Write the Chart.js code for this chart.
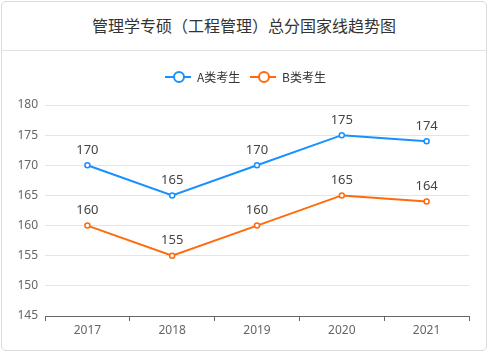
<!DOCTYPE html>
<html><head><meta charset="utf-8">
<script src="https://cdn.jsdelivr.net/npm/chart.js@4/dist/chart.umd.min.js"></script>
<style>
html,body{margin:0;padding:0;background:#fff;width:490px;height:355px;overflow:hidden;font-family:"Noto Sans CJK SC","Noto Sans",sans-serif;}
#card{position:absolute;left:1px;top:1px;width:486px;height:350px;border:1px solid #dcdcdc;border-radius:5px;box-sizing:border-box;}
#head{position:absolute;left:1px;top:1px;width:486px;height:50px;border-bottom:1px solid #e2e2e2;box-sizing:border-box;text-align:center;line-height:48px;font-size:16px;color:#333;}
#legend{position:absolute;top:67px;left:0;width:490px;height:20px;font-size:12px;color:#333;}
.li{position:absolute;top:0;height:20px;line-height:20px;}
.ln{position:absolute;top:9px;width:26px;height:2px;}
.ci{position:absolute;top:4px;width:8px;height:8px;border-radius:50%;background:#fff;border:2px solid;}
.tx{position:absolute;top:0;white-space:nowrap;}
#wrap{position:absolute;left:0;top:0;width:490px;height:355px;}
</style></head>
<body>
<div id="card"></div>
<div id="head">管理学专硕（工程管理）总分国家线趋势图</div>
<div id="wrap"><canvas id="c" width="490" height="355"></canvas></div>
<div id="legend"></div>
<script>
const categories = ["2017","2018","2019","2020","2021"];
const seriesA = [170,165,170,175,174];
const seriesB = [160,155,160,165,164];
const seriesNames = ["A类考生","B类考生"];
const colors = ["#1890ff","#ff6a0a"];
const yTicks = [145,150,155,160,165,170,175,180];

// HTML legend
const lg = document.getElementById('legend');
const lx = [165, 250];
seriesNames.forEach((n,i)=>{
  const d=document.createElement('div');d.className='li';d.style.left=lx[i]+'px';
  d.innerHTML='<div class="ln" style="left:0;background:'+colors[i]+'"></div><div class="ci" style="left:8px;border-color:'+colors[i]+'"></div><div class="tx" style="left:32px">'+n+'</div>';
  lg.appendChild(d);
});

const labelPlugin = {
  id:'vlabels',
  afterDatasetsDraw(chart){
    const ctx=chart.ctx;
    ctx.save();
    ctx.font='13px "Noto Sans", "Noto Sans CJK SC", sans-serif';
    ctx.fillStyle='#444';
    ctx.textAlign='center';ctx.textBaseline='middle';
    chart.data.datasets.forEach((ds,di)=>{
      chart.getDatasetMeta(di).data.forEach((pt,i)=>{
        ctx.fillText(String(ds.data[i]), pt.x, pt.y-15);
      });
    });
    ctx.restore();
  }
};

new Chart(document.getElementById('c'),{
  type:'line',
  data:{labels:categories,datasets:[
    {label:seriesNames[0],data:seriesA,borderColor:colors[0],backgroundColor:'#fff',borderWidth:2,pointRadius:2.5,pointBorderWidth:1.5,pointBackgroundColor:'#fff',pointBorderColor:colors[0],tension:0},
    {label:seriesNames[1],data:seriesB,borderColor:colors[1],backgroundColor:'#fff',borderWidth:2,pointRadius:2.5,pointBorderWidth:1.5,pointBackgroundColor:'#fff',pointBorderColor:colors[1],tension:0}
  ]},
  options:{
    responsive:false,animation:false,
    layout:{padding:{left:0,right:21,top:105,bottom:0}},
    plugins:{legend:{display:false},tooltip:{enabled:false}},
    scales:{
      x:{offset:true,
        grid:{offset:true,drawOnChartArea:false,drawTicks:true,tickLength:5,color:'#666'},
        border:{display:true,color:'#666',width:1},
        ticks:{color:'#666',font:{size:12,family:'"Noto Sans", sans-serif'},padding:2},
        afterFit(s){s.height=39;}
      },
      y:{min:145,max:180,
        afterBuildTicks(s){s.ticks=yTicks.map(v=>({value:v}));},
        grid:{color:'#e0e6f1',drawTicks:false},
        border:{display:false},
        ticks:{color:'#666',font:{size:12,family:'"Noto Sans", sans-serif'},padding:7},
        afterFit(s){s.width=45;}
      }
    }
  },
  plugins:[labelPlugin]
});
</script>
</body></html>
